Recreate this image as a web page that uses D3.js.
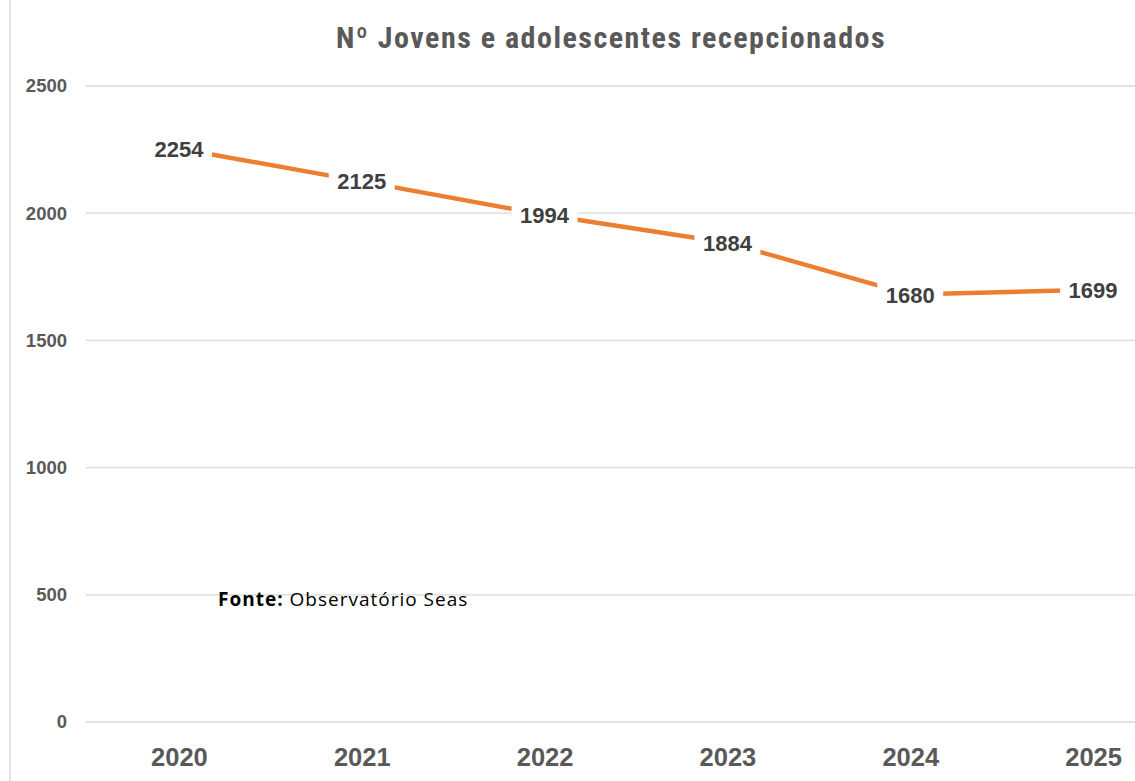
<!DOCTYPE html>
<html><head><meta charset="utf-8">
<script src="https://cdn.jsdelivr.net/npm/d3@7"></script>
<style>body{margin:0;background:#fff;} svg{display:block;}</style>
</head><body>
<svg id="c" width="1135" height="781"></svg>
<script>
const years = ["2020","2021","2022","2023","2024","2025"];
const values = [2254, 2125, 1994, 1884, 1680, 1699];
const yTicks = [0, 500, 1000, 1500, 2000, 2500];
const title = "Nº Jovens e adolescentes recepcionados";

(function(){
const svg = d3.select("#c");
const W = 1135, H = 781;
const mLeft = 87.5, mRight = 1184.5, mTop = 86, mBottom = 722;

svg.append("line").attr("x1",10).attr("x2",10).attr("y1",0).attr("y2",H)
  .attr("stroke","#d9d9d9").attr("stroke-width",1.5);

const x = d3.scalePoint().domain(years).range([mLeft, mRight]).padding(0.5);
const y = d3.scaleLinear().domain([0, 2500]).range([mBottom, mTop]);

svg.append("g").selectAll("line").data(yTicks).join("line")
  .attr("x1", 86).attr("x2", W)
  .attr("y1", d => y(d)).attr("y2", d => y(d))
  .attr("stroke", "#d9d9d9").attr("stroke-width", 1.3);

const yAxis = svg.append("g").attr("transform", `translate(67,0)`)
  .call(d3.axisLeft(y).tickValues(yTicks).tickSize(0).tickPadding(0).tickFormat(d3.format("d")));
yAxis.select(".domain").remove();
yAxis.selectAll("text").attr("font-family","Liberation Sans, Arial, sans-serif")
  .attr("font-weight","bold").attr("font-size",18.5).attr("fill","#595959");

const xAxis = svg.append("g").attr("transform", `translate(0,748)`)
  .call(d3.axisBottom(x).tickSize(0).tickPadding(0));
xAxis.select(".domain").remove();
xAxis.selectAll("text").attr("font-family","Liberation Sans, Arial, sans-serif")
  .attr("font-weight","bold").attr("font-size",25.5).attr("fill","#595959");

const line = d3.line().x((d,i) => x(years[i])).y(d => y(d));
svg.append("path").datum(values).attr("d", line)
  .attr("fill","none").attr("stroke","#ED7D31").attr("stroke-width",4.5)
  .attr("stroke-linejoin","round");

const lbl = svg.append("g").selectAll("g").data(values).join("g")
  .attr("transform",(d,i)=>`translate(${x(years[i])},${y(d)})`);
lbl.append("rect").attr("x",-33).attr("y",-18).attr("width",66).attr("height",36).attr("fill","#fff");
lbl.append("text").text(d=>d).attr("text-anchor","middle").attr("dy","0.36em")
  .attr("font-family","Liberation Sans, Arial, sans-serif").attr("font-weight","bold")
  .attr("font-size",22).attr("fill","#404040");

svg.append("text").attr("x",611).attr("y",48).attr("text-anchor","middle")
  .attr("font-family","Liberation Sans Narrow, Roboto Condensed, Arial Narrow, sans-serif")
  .attr("font-weight","bold").attr("font-size",30).attr("letter-spacing",1.5)
  .attr("fill","#595959").text(title);

const src = svg.append("text").attr("x",218).attr("y",606)
  .attr("font-family","Open Sans, Noto Sans, sans-serif").attr("font-size",19)
  .attr("letter-spacing",1).attr("fill","#000");
src.append("tspan").attr("font-weight","bold").text("Fonte:");
src.append("tspan").text(" Observatório Seas");
})();
</script>
</body></html>
